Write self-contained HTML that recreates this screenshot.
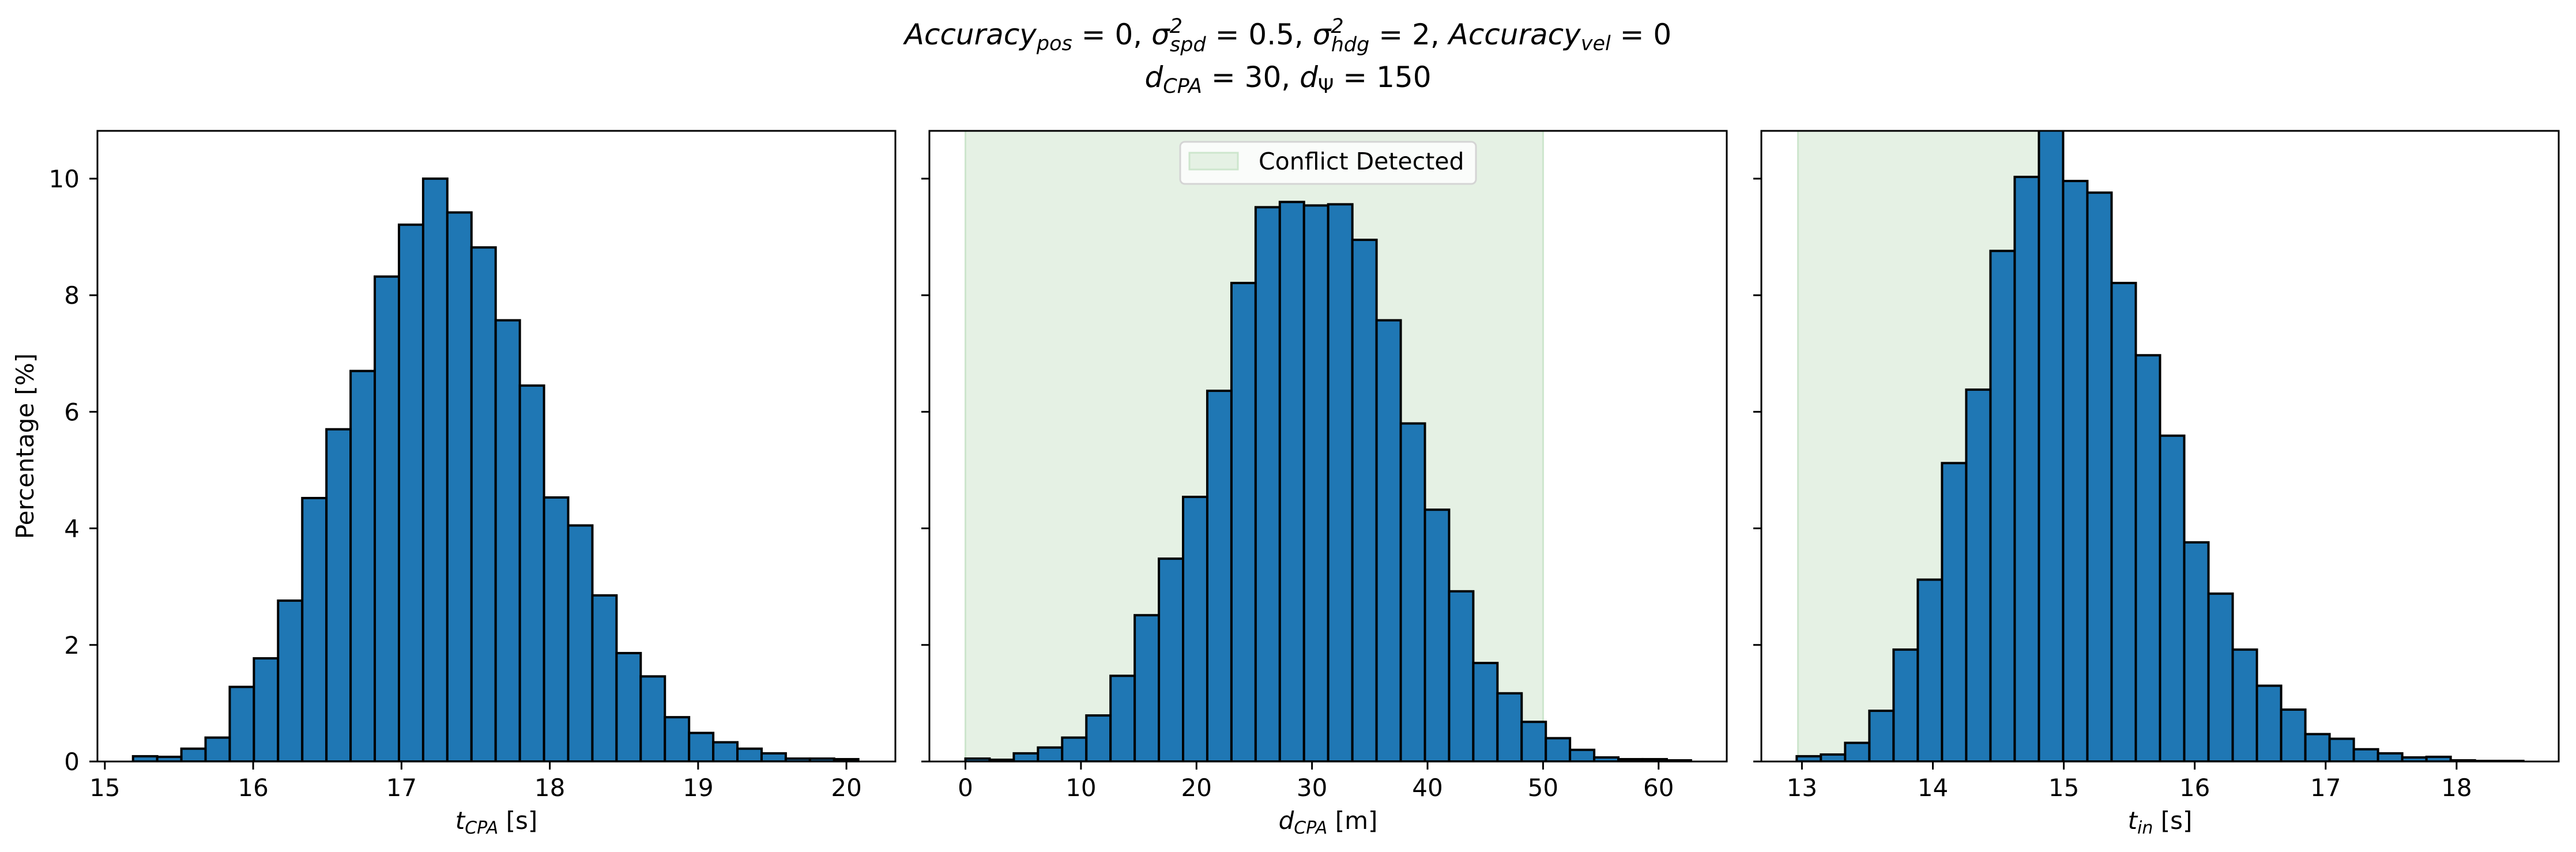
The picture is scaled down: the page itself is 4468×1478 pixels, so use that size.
<!DOCTYPE html>
<html><head><meta charset="utf-8">
<style>
html,body{margin:0;padding:0;background:#fff;}
svg{display:block;font-family:"DejaVu Sans","Liberation Sans",sans-serif;}
</style></head>
<body>
<svg id="fig" width="4468" height="1478" viewBox="0 0 4468 1478" xmlns="http://www.w3.org/2000/svg">
<rect x="0" y="0" width="4468" height="1478" fill="#fff"/>
<g font-size="50" text-anchor="middle" fill="#000">
<text x="2234" y="77"><tspan font-style="italic">Accuracy</tspan><tspan font-style="italic" font-size="35" dy="10">pos</tspan><tspan dy="-10"> = 0, </tspan><tspan font-style="italic">σ</tspan><tspan font-style="italic" font-size="35" dy="-20">2</tspan><tspan font-style="italic" font-size="35" dx="-22" dy="32">spd</tspan><tspan dy="-12"> = 0.5, </tspan><tspan font-style="italic">σ</tspan><tspan font-style="italic" font-size="35" dy="-20">2</tspan><tspan font-style="italic" font-size="35" dx="-22" dy="32">hdg</tspan><tspan dy="-12"> = 2, </tspan><tspan font-style="italic">Accuracy</tspan><tspan font-style="italic" font-size="35" dy="10">vel</tspan><tspan dy="-10"> = 0</tspan></text>
<text x="2234" y="151"><tspan font-style="italic">d</tspan><tspan font-style="italic" font-size="35" dy="10">CPA</tspan><tspan dy="-10"> = 30, </tspan><tspan font-style="italic">d</tspan><tspan font-size="35" dy="10">Ψ</tspan><tspan dy="-10"> = 150</tspan></text>
</g>
<text x="0" y="0" transform="translate(58,774) rotate(-90)" font-size="42" text-anchor="middle">Percentage [%]</text>
<g id="p1"></g>
<g id="p2"></g>
<g id="p3"></g>
</svg>
<script>
const NS = "http://www.w3.org/2000/svg";
// Panel 1: t_CPA
const tcpaBinStart = 15.19;
const tcpaBinEnd = 20.08;
const tcpaValues = [0.09,0.08,0.22,0.41,1.28,1.77,2.76,4.52,5.70,6.70,8.32,9.21,10.0,9.42,8.82,7.57,6.45,4.53,4.05,2.85,1.86,1.46,0.76,0.49,0.33,0.22,0.14,0.05,0.05,0.04];
const tcpaTicks = [15,16,17,18,19,20];
// Panel 2: d_CPA
const dcpaBinStart = 0;
const dcpaBinEnd = 62.8;
const dcpaValues = [0.05,0.03,0.14,0.24,0.41,0.79,1.47,2.51,3.48,4.54,6.36,8.21,9.51,9.60,9.54,9.56,8.95,7.57,5.80,4.32,2.92,1.69,1.17,0.68,0.40,0.20,0.07,0.04,0.04,0.02];
const dcpaTicks = [0,10,20,30,40,50,60];
const dcpaConflict = [0,50];
// Panel 3: t_in
const tinBinStart = 12.96;
const tinBinEnd = 18.51;
const tinValues = [0.09,0.12,0.32,0.87,1.92,3.12,5.12,6.38,8.76,10.03,11.2,9.96,9.76,8.21,6.97,5.59,3.76,2.88,1.92,1.30,0.89,0.47,0.39,0.21,0.14,0.07,0.08,0.02,0.01,0.01];
const tinTicks = [13,14,15,16,17,18];
const tinConflict = [12.97,14.95];
const yTicks = [0,2,4,6,8,10];
const yMax = 10.82;

const TOP = 227, BOT = 1321;
function mk(tag, attrs, parent){const e=document.createElementNS(NS,tag);for(const k in attrs)e.setAttribute(k,attrs[k]);parent.appendChild(e);return e;}

function panel(gid, left, right, xmin, xmax, start, end, values, ticks, label, sub, unit, conflict, showY){
  const g = document.getElementById(gid);
  const xs = v => left + (v - xmin) / (xmax - xmin) * (right - left);
  const ys = v => BOT - v / yMax * (BOT - TOP);
  const clip = mk('clipPath', {id: gid+'clip'}, g);
  mk('rect', {x:left, y:TOP, width:right-left, height:BOT-TOP}, clip);
  const inner = mk('g', {'clip-path':'url(#'+gid+'clip)'}, g);
  if (conflict){
    const s = mk('rect', {x:xs(conflict[0]), y:TOP, width:xs(conflict[1])-xs(conflict[0]), height:BOT-TOP, fill:'rgb(229,241,228)', stroke:'rgb(205,230,205)', 'stroke-width':3}, inner);
    
    
  }
  const w = (end - start) / values.length;
  values.forEach((v, i) => {
    const x0 = xs(start + i*w), x1 = xs(start + (i+1)*w);
    const r = mk('rect', {x:x0, y:ys(v), width:x1-x0, height:BOT-ys(v), fill:'#1f77b4', stroke:'#000', 'stroke-width':4}, inner);
    
    
  });
  const frame = mk('rect', {x:left, y:TOP, width:right-left, height:BOT-TOP, fill:'none', stroke:'#000', 'stroke-width':3}, g);
  
  
  ticks.forEach(t => {
    const x = xs(t);
    const tk = mk('line', {x1:x, x2:x, y1:BOT, y2:BOT+14, stroke:'#000', 'stroke-width':3}, g);
    
    
    const tl = mk('text', {x:x, y:1381, 'font-size':42, 'text-anchor':'middle'}, g);
    tl.textContent = t;
    
    
  });
  yTicks.forEach(t => {
    const y = ys(t);
    const tk = mk('line', {x1:left-14, x2:left, y1:y, y2:y, stroke:'#000', 'stroke-width':3}, g);
    
    
    if (showY){
      const tl = mk('text', {x:left-31, y:y+15, 'font-size':42, 'text-anchor':'end'}, g);
      tl.textContent = t;
      
      
    }
  });
  const xl = mk('text', {x:(left+right)/2, y:1438, 'font-size':42, 'text-anchor':'middle'}, g);
  
  
  const a = mk('tspan', {'font-style':'italic'}, xl); a.textContent = label;
  const b = mk('tspan', {'font-style':'italic', 'font-size':30, dy:8}, xl); b.textContent = sub;
  const c = mk('tspan', {dy:-8}, xl); c.textContent = ' ' + unit;
}

panel('p1', 169, 1553, 14.95, 20.33, tcpaBinStart, tcpaBinEnd, tcpaValues, tcpaTicks, 't', 'CPA', '[s]', null, true);
panel('p2', 1612, 2995, -3.12, 65.9, dcpaBinStart, dcpaBinEnd, dcpaValues, dcpaTicks, 'd', 'CPA', '[m]', dcpaConflict, false);
panel('p3', 3055, 4438, 12.69, 18.78, tinBinStart, tinBinEnd, tinValues, tinTicks, 't', 'in', '[s]', tinConflict, false);

// legend
const p2 = document.getElementById('p2');
const lg = mk('g', {}, p2);


mk('rect', {x:2047, y:246, width:513, height:73, rx:8, fill:'#fff', 'fill-opacity':0.8, stroke:'#d4d4d4', 'stroke-width':3}, lg);
const lp = mk('rect', {x:2063, y:265, width:84, height:29, fill:'rgb(229,241,228)', stroke:'rgb(205,230,205)', 'stroke-width':3}, lg);


const lt = mk('text', {x:2183, y:294, 'font-size':41}, lg);
lt.textContent = 'Conflict Detected';


</script>
</body></html>
